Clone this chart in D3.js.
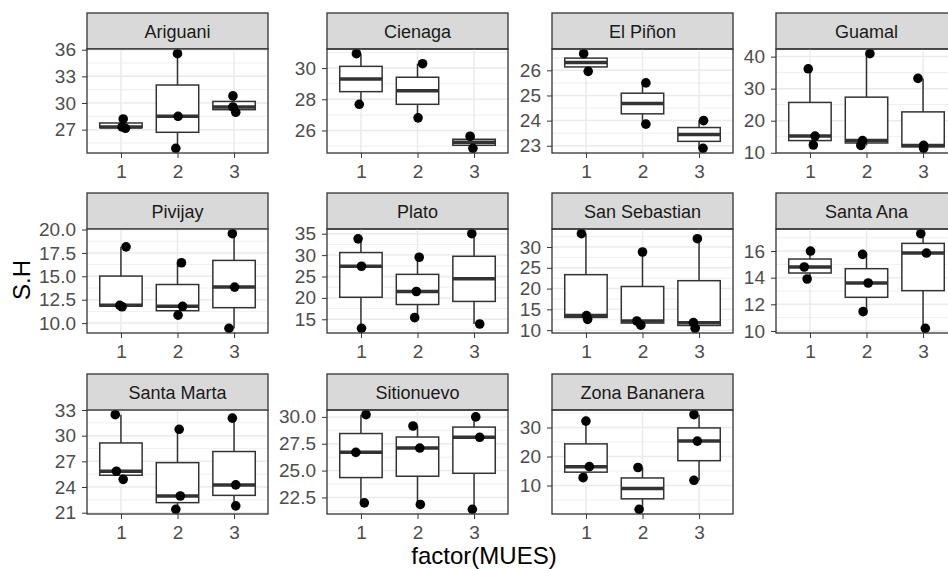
<!DOCTYPE html>
<html>
<head>
<meta charset="utf-8">
<script src="https://cdn.jsdelivr.net/npm/d3@7"></script>
<style>
  body { margin: 0; background: #fff; }
  svg { font-family: "Liberation Sans", Arial, sans-serif; display: block; }
  .tick text { fill: #4d4d4d; font-size: 19px; }
  .tick line { stroke: #333; }
</style>
</head>
<body>
<script>
// facets and factor levels
var sites = ["Ariguani", "Cienaga", "El Piñon", "Guamal",
             "Pivijay", "Plato", "San Sebastian", "Santa Ana",
             "Santa Marta", "Sitionuevo", "Zona Bananera"];
var mues = ["1", "2", "3"];

// S.H values per site, one list per MUES level
var ariguani     = [[27.15, 27.3, 28.2], [24.9, 28.5, 35.55], [28.95, 29.55, 30.8]];
var cienaga      = [[27.68, 30.92], [26.81, 30.28], [24.86, 25.63]];
var elPinon      = [[25.96, 26.66], [23.86, 25.5], [22.9, 24.0]];
var guamal       = [[12.4, 15.2, 36.2], [12.3, 13.8, 40.9], [11.4, 12.3, 33.2]];
var pivijay      = [[11.75, 11.9, 18.15], [10.85, 11.8, 16.45], [9.45, 13.85, 19.55]];
var plato        = [[12.9, 27.4, 33.8], [15.4, 21.5, 29.5], [13.9, 35.0]];
var sanSebastian = [[12.6, 13.5, 33.2], [11.2, 12.2, 28.8], [10.45, 11.8, 32.0]];
var santaAna     = [[13.9, 14.8, 16.0], [11.45, 13.6, 15.75], [10.2, 15.85, 17.3]];
var santaMarta   = [[24.9, 25.85, 32.45], [21.4, 22.95, 30.75], [21.8, 24.25, 32.05]];
var sitionuevo   = [[22.0, 26.7, 30.2], [21.85, 27.1, 29.15], [21.4, 28.1, 30.0]];
var zonaBananera = [[12.7, 16.5, 32.2], [1.8, 16.2], [11.8, 25.3, 34.4]];

// horizontal jitter of the points (fraction of a category step)
var ariguaniJit     = [[0.08, 0.02, 0.04], [-0.03, 0.01, 0], [0.03, -0.02, -0.02]];
var cienagaJit      = [[-0.03, -0.08], [0.01, 0.09], [-0.02, -0.07]];
var elPinonJit      = [[0.04, -0.04], [0.06, 0.06], [0.07, 0.08]];
var guamalJit       = [[0.06, 0.09, -0.03], [-0.1, -0.07, 0.06], [0.01, 0.01, -0.09]];
var pivijayJit      = [[0.02, -0.02, 0.09], [0.01, 0.09, 0.07], [-0.09, 0.01, -0.03]];
var platoJit        = [[0.01, 0.01, -0.05], [-0.05, -0.02, 0.03], [0.1, -0.04]];
var sanSebastianJit = [[0.03, 0.01, -0.08], [-0.03, -0.1, 0], [-0.07, -0.1, -0.03]];
var santaAnaJit     = [[-0.05, -0.1, 0.01], [-0.06, 0.03, -0.07], [0.04, 0.06, -0.04]];
var santaMartaJit   = [[0.04, -0.08, -0.1], [-0.03, 0.05, 0.03], [0.03, 0.03, -0.03]];
var sitionuevoJit   = [[0.06, -0.09, 0.09], [0.05, 0.04, -0.08], [-0.03, 0.1, 0.03]];
var zonaBananeraJit = [[-0.05, 0.06, 0], [-0.06, -0.08], [-0.09, -0.03, -0.09]];

// y tick labels per panel
var yTicks = [[27, 30, 33, 36], [26, 28, 30], [23, 24, 25, 26], [10, 20, 30, 40],
              [10, 12.5, 15, 17.5, 20], [15, 20, 25, 30, 35], [10, 15, 20, 25, 30], [10, 12, 14, 16],
              [21, 24, 27, 30, 33], [22.5, 25, 27.5, 30], [10, 20, 30]];

var values = [ariguani, cienaga, elPinon, guamal, pivijay, plato,
              sanSebastian, santaAna, santaMarta, sitionuevo, zonaBananera];
var jitters = [ariguaniJit, cienagaJit, elPinonJit, guamalJit, pivijayJit, platoJit,
               sanSebastianJit, santaAnaJit, santaMartaJit, sitionuevoJit, zonaBananeraJit];

// layout
var W = 948, H = 569;
var colLeft = [87, 327, 552, 776];
var rowTop = [13, 193, 374];
var panelW = 181, stripH = 36, panelH = 104;

var svg = d3.select("body").append("svg")
    .attr("width", W)
    .attr("height", H);

sites.forEach(function(site, i) {
    var col = i % 4, row = Math.floor(i / 4);
    var left = colLeft[col], top = rowTop[row];
    var groups = values[i];

    // scales
    var all = d3.merge(groups);
    var ext = d3.extent(all);
    var pad = (ext[1] - ext[0]) * 0.05;
    var y = d3.scaleLinear().domain([ext[0] - pad, ext[1] + pad]).range([panelH, 0]);
    var x = d3.scalePoint().domain(mues).range([0, panelW]).padding(0.6);
    var step = x.step();

    // strip
    svg.append("rect")
        .attr("x", left).attr("y", top)
        .attr("width", panelW).attr("height", stripH)
        .attr("fill", "#d9d9d9")
        .attr("stroke", "#333").attr("stroke-width", 1.3);
    svg.append("text")
        .attr("x", left + panelW / 2).attr("y", top + 25)
        .attr("text-anchor", "middle")
        .attr("font-size", 18)
        .attr("fill", "#1a1a1a")
        .text(site);

    var g = svg.append("g").attr("transform", "translate(" + left + "," + (top + stripH) + ")");

    // grid
    var ticks = yTicks[i];
    var tstep = ticks[1] - ticks[0];
    var minor = [ticks[0] - tstep / 2].concat(ticks.map(function(t) { return t + tstep / 2; }))
        .filter(function(v) { return v > y.domain()[0] && v < y.domain()[1]; });
    g.selectAll("line.minor").data(minor).enter().append("line")
        .attr("x1", 0).attr("x2", panelW)
        .attr("y1", function(d) { return y(d); }).attr("y2", function(d) { return y(d); })
        .attr("stroke", "#ebebeb").attr("stroke-width", 0.8);
    g.selectAll("line.major").data(ticks).enter().append("line")
        .attr("x1", 0).attr("x2", panelW)
        .attr("y1", function(d) { return y(d); }).attr("y2", function(d) { return y(d); })
        .attr("stroke", "#ebebeb").attr("stroke-width", 1.5);
    g.selectAll("line.vmajor").data(mues).enter().append("line")
        .attr("x1", function(d) { return x(d); }).attr("x2", function(d) { return x(d); })
        .attr("y1", 0).attr("y2", panelH)
        .attr("stroke", "#ebebeb").attr("stroke-width", 1.5);

    // boxplots
    var boxW = step * 0.75;
    groups.forEach(function(vals, k) {
        var s = vals.slice().sort(d3.ascending);
        var q1 = d3.quantile(s, 0.25), med = d3.quantile(s, 0.5), q3 = d3.quantile(s, 0.75);
        var iqr = q3 - q1;
        var lo = d3.min(s.filter(function(v) { return v >= q1 - 1.5 * iqr; }));
        var hi = d3.max(s.filter(function(v) { return v <= q3 + 1.5 * iqr; }));
        var cx = x(mues[k]);
        var bg = g.append("g");
        bg.append("line")
            .attr("x1", cx).attr("x2", cx).attr("y1", y(hi)).attr("y2", y(q3))
            .attr("stroke", "#333").attr("stroke-width", 1.5);
        bg.append("line")
            .attr("x1", cx).attr("x2", cx).attr("y1", y(q1)).attr("y2", y(lo))
            .attr("stroke", "#333").attr("stroke-width", 1.5);
        bg.append("rect")
            .attr("x", cx - boxW / 2).attr("y", y(q3))
            .attr("width", boxW).attr("height", Math.max(0.1, y(q1) - y(q3)))
            .attr("fill", "#fff")
            .attr("stroke", "#333").attr("stroke-width", 1.5);
        bg.append("line")
            .attr("x1", cx - boxW / 2).attr("x2", cx + boxW / 2)
            .attr("y1", y(med)).attr("y2", y(med))
            .attr("stroke", "#333").attr("stroke-width", 3.5);
    });

    // points
    var pts = [];
    groups.forEach(function(vals, k) {
        vals.forEach(function(v, j) { pts.push({ level: mues[k], v: v, dx: jitters[i][k][j] }); });
    });
    g.selectAll("circle").data(pts).enter().append("circle")
        .attr("cx", function(d) { return x(d.level) + d.dx * step; })
        .attr("cy", function(d) { return y(d.v); })
        .attr("r", 4.8)
        .attr("fill", "#000");

    // panel border
    g.append("rect")
        .attr("width", panelW).attr("height", panelH)
        .attr("fill", "none")
        .attr("stroke", "#333").attr("stroke-width", 1.3);

    // axes
    var fmt = ticks.some(function(t) { return t % 1 !== 0; }) ? d3.format(".1f") : d3.format("d");
    var ya = g.append("g")
        .call(d3.axisLeft(y).tickValues(ticks).tickSize(5).tickPadding(6).tickFormat(fmt));
    ya.select(".domain").remove();
    ya.selectAll("text").attr("font-family", null).attr("font-size", null);
    var xa = g.append("g")
        .attr("transform", "translate(0," + panelH + ")")
        .call(d3.axisBottom(x).tickSize(5).tickPadding(7));
    xa.select(".domain").remove();
    xa.selectAll("text").attr("font-family", null).attr("font-size", null);
});

// axis titles
svg.append("text")
    .attr("x", 484).attr("y", 564)
    .attr("text-anchor", "middle")
    .attr("font-size", 24)
    .text("factor(MUES)");
svg.append("text")
    .attr("transform", "translate(30,280) rotate(-90)")
    .attr("text-anchor", "middle")
    .attr("font-size", 24)
    .text("S.H");
</script>
</body>
</html>
